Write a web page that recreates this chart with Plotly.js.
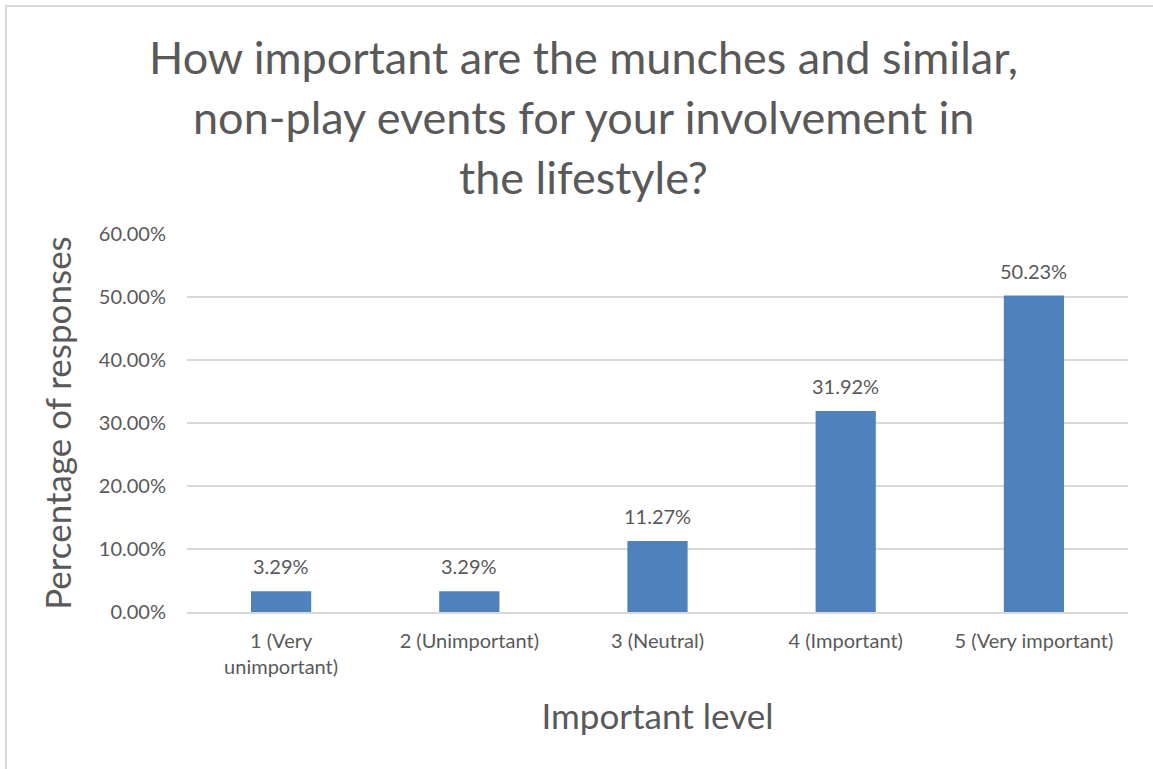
<!DOCTYPE html>
<html>
<head>
<meta charset="utf-8">
<script src="https://cdn.plot.ly/plotly-3.0.1.min.js"></script>
<style>
  body { margin: 0; background: #fff; }
  #wrap { position: relative; width: 1153px; height: 769px; }
  #chart { width: 1153px; height: 769px; }
  #frame { position: absolute; left: 5px; top: 5px; width: 1160px; height: 780px;
           border-left: 2px solid #d9d9d9; border-top: 2px solid #d9d9d9; pointer-events: none; }
</style>
</head>
<body>
<div id="wrap"><div id="chart"></div><div id="frame"></div></div>
<script>
const categories = ["1 (Very<br>unimportant)", "2 (Unimportant)", "3 (Neutral)", "4 (Important)", "5 (Very important)"];
const values = [0.0329, 0.0329, 0.1127, 0.3192, 0.5023];
const labels = ["3.29%", "3.29%", "11.27%", "31.92%", "50.23%"];
const yTicks = [0, 0.1, 0.2, 0.3, 0.4, 0.5, 0.6];
const yTickText = ["0.00%", "10.00%", "20.00%", "30.00%", "40.00%", "50.00%", "60.00%"];
const titleLines = ["How important are the munches and similar,", "non-play events for your involvement in", "the lifestyle?"];

const font = "Lato, 'Open Sans', sans-serif";
const grey = "#595959";

const annotations = [];
titleLines.forEach((t, i) => {
  annotations.push({
    text: t, xref: "paper", yref: "paper", x: 0.421, y: 1, xanchor: "center", yanchor: "middle",
    yshift: 234 - 57 - 60 * i, showarrow: false,
    font: { family: font, size: 45, color: grey }
  });
});
categories.forEach((c, i) => {
  annotations.push({
    text: labels[i], x: c, y: values[i], xref: "x", yref: "y",
    xanchor: "center", yanchor: "bottom", yshift: 11, showarrow: false,
    font: { family: font, size: 20, color: grey }
  });
});

Plotly.newPlot("chart", [{
  type: "bar",
  x: categories,
  y: values,
  marker: { color: "#4f81bd" },
  width: 0.32,
  hoverinfo: "none"
}], {
  width: 1153, height: 769,
  paper_bgcolor: "#fff", plot_bgcolor: "#fff",
  margin: { l: 187, r: 25, t: 234, b: 157 },
  font: { family: font, color: grey },
  showlegend: false,
  annotations: annotations,
  xaxis: {
    type: "category",
    tickfont: { family: font, size: 20, color: grey },
    showgrid: false,
    showline: true, linecolor: "#d9d9d9", linewidth: 1.5,
    ticks: "",
    ticklabelstandoff: 10,
    title: { text: "Important level", font: { family: font, size: 35, color: grey }, standoff: 28 }
  },
  yaxis: {
    range: [0, 0.6],
    tickvals: yTicks,
    ticktext: yTickText,
    tickfont: { family: font, size: 20, color: grey },
    showgrid: true, gridcolor: "#d9d9d9", gridwidth: 1.5,
    zeroline: false,
    showline: false,
    ticks: "",
    ticklabelstandoff: 20,
    title: { text: "Percentage of responses", font: { family: font, size: 35, color: grey }, standoff: 16 }
  }
}, { staticPlot: true });
</script>
</body>
</html>
